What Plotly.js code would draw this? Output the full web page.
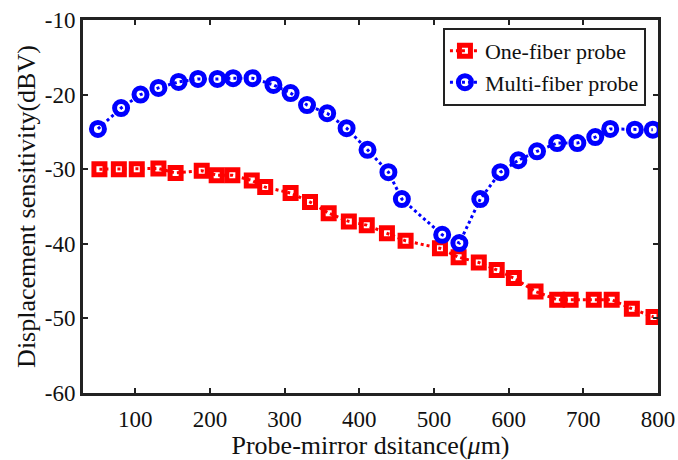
<!DOCTYPE html>
<html>
<head>
<meta charset="utf-8">
<script src="https://cdn.plot.ly/plotly-3.0.1.min.js"></script>
<style>html,body{margin:0;padding:0;background:#fff;}#chart{width:678px;height:460px;}</style>
</head>
<body>
<div id="chart"></div>
<script>
// One-fiber probe (red squares)
const oneFiberX = [52, 78, 102, 131, 154, 189, 209, 230, 256, 274, 308, 334, 359, 386, 410, 437, 462, 508, 533, 560, 584, 607, 636, 665, 683, 714, 738, 765, 794];
const oneFiberY = [-30.0, -30.0, -30.0, -29.9, -30.5, -30.2, -30.8, -30.8, -31.5, -32.4, -33.2, -34.4, -35.9, -37.0, -37.5, -38.6, -39.6, -40.6, -41.8, -42.5, -43.5, -44.6, -46.4, -47.5, -47.5, -47.5, -47.5, -48.7, -49.8];
// Multi-fiber probe (blue circles)
const multiFiberX = [50, 81, 107, 131, 158, 184, 210, 231, 257, 285, 308, 330, 357, 383, 411, 439, 457, 511, 534, 562, 589, 613, 638, 665, 692, 716, 736, 769, 793];
const multiFiberY = [-24.6, -21.8, -20.0, -19.1, -18.3, -17.9, -17.9, -17.8, -17.8, -18.7, -19.8, -21.4, -22.5, -24.5, -27.4, -30.4, -34.0, -38.8, -39.9, -34.0, -30.4, -28.8, -27.6, -26.5, -26.5, -25.7, -24.6, -24.7, -24.7];
const xTicks = [100, 200, 300, 400, 500, 600, 700, 800];
const yTicks = [-60, -50, -40, -30, -20, -10];

const serif = 'Liberation Serif, Times New Roman, serif';

const traces = [
  {
    x: oneFiberX, y: oneFiberY, name: 'One-fiber probe', type: 'scatter', mode: 'lines+markers',
    line: {color: '#ff0000', width: 3, dash: 'dot'},
    marker: {symbol: 'square-open', size: 11, color: '#ff0000', line: {color: '#ff0000', width: 5}}
  },
  {
    x: multiFiberX, y: multiFiberY, name: 'Multi-fiber probe', type: 'scatter', mode: 'lines+markers',
    line: {color: '#0000ff', width: 3, dash: 'dot'},
    marker: {symbol: 'circle-open', size: 13, color: '#0000ff', line: {color: '#0000ff', width: 5}}
  }
];

const axisCommon = {
  showgrid: false, zeroline: false, showline: true, linecolor: '#222', linewidth: 3,
  mirror: 'ticks', ticks: 'inside', ticklen: 5, tickwidth: 2, tickcolor: '#222',
  tickfont: {family: serif, size: 23, color: '#111'}
};

const layout = {
  width: 678, height: 460,
  margin: {l: 83, r: 20, t: 20, b: 67},
  paper_bgcolor: '#fff', plot_bgcolor: '#fff',
  showlegend: true,
  xaxis: Object.assign({}, axisCommon, {
    range: [30, 800], tickvals: xTicks, ticktext: xTicks.map(String),
    ticklabelstandoff: 3,
    title: {text: 'Probe-mirror dsitance(<i>μ</i>m)', font: {family: serif, size: 26, color: '#111'}, standoff: 9}
  }),
  yaxis: Object.assign({}, axisCommon, {
    range: [-60, -10], tickvals: yTicks, ticktext: yTicks.map(String),
    title: {text: 'Displacement sensitivity(dBV)', font: {family: serif, size: 26, color: '#111'}, standoff: 2}
  }),
  legend: {
    x: 0.626, y: 0.979, xanchor: 'left', yanchor: 'top',
    bgcolor: '#fff', bordercolor: '#222', borderwidth: 2,
    font: {family: serif, size: 22, color: '#111'},
    tracegroupgap: 0, itemwidth: 30
  }
};

Plotly.newPlot('chart', traces, layout, {displayModeBar: false, staticPlot: true});
</script>
</body>
</html>
